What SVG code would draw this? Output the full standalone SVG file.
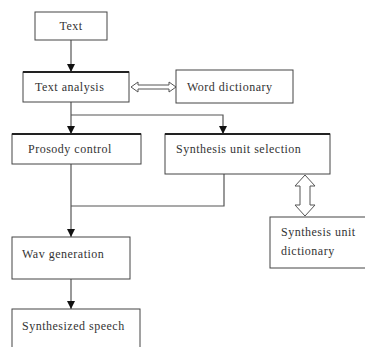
<svg xmlns="http://www.w3.org/2000/svg" width="365" height="347" viewBox="0 0 365 347">
<defs>
<marker id="ah" markerWidth="8" markerHeight="8" refX="8" refY="4" orient="auto" markerUnits="userSpaceOnUse">
<path d="M0,0 L8,4 L0,8 Z" fill="#111"/>
</marker>
<style>
.box{fill:#fff;stroke:#444;stroke-width:1}
.top{stroke:#222;stroke-width:2}
.t{font-family:'Liberation Serif','Times New Roman',serif;font-size:12px;letter-spacing:0.5px;fill:#333}
.ln{fill:none;stroke:#555;stroke-width:1.2}
.hol{fill:#fff;stroke:#555;stroke-width:1}
</style>
</defs>
<rect width="365" height="347" fill="#fff"/>
<g id="connectors">
<line class="ln" x1="71" y1="40" x2="71" y2="72" marker-end="url(#ah)"/>
<line class="ln" x1="71" y1="102" x2="71" y2="134" marker-end="url(#ah)"/>
<polyline class="ln" points="71,115 223,115 223,134" marker-end="url(#ah)"/>
<line class="ln" x1="71" y1="164" x2="71" y2="237" marker-end="url(#ah)"/>
<polyline class="ln" points="71,206 224,206 224,174"/>
<line class="ln" x1="71" y1="279" x2="71" y2="309" marker-end="url(#ah)"/>
<polygon class="hol" points="131,87 138,82 138,85 169,85 169,82 176,87 169,92 169,89 138,89 138,92"/>
<polygon class="hol" points="305,175 315,186 310,186 310,205 315,205 305,216 295,205 300,205 300,186 295,186"/>
</g>
<g id="text">
<rect class="box" x="35" y="12" width="72" height="28"/>
<text class="t" x="71" y="30" text-anchor="middle">Text</text>
</g>
<g id="text-analysis">
<rect class="box" x="23" y="72" width="106" height="30"/>
<line class="top" x1="23" y1="72" x2="129" y2="72"/>
<text class="t" x="35" y="91">Text analysis</text>
</g>
<g id="word-dictionary">
<rect class="box" x="176" y="70" width="117" height="33"/>
<text class="t" x="187" y="91">Word dictionary</text>
</g>
<g id="prosody-control">
<rect class="box" x="12" y="134" width="129" height="30"/>
<line class="top" x1="12" y1="134" x2="141" y2="134"/>
<text class="t" x="28" y="153">Prosody control</text>
</g>
<g id="synthesis-unit-selection">
<rect class="box" x="165" y="134" width="165" height="40"/>
<line class="top" x1="165" y1="134" x2="330" y2="134"/>
<text class="t" x="176" y="153">Synthesis unit selection</text>
</g>
<g id="synthesis-unit-dictionary">
<rect class="box" x="270" y="217" width="100" height="51"/>
<text class="t" x="281" y="236">Synthesis unit</text>
<text class="t" x="281" y="255">dictionary</text>
</g>
<g id="wav-generation">
<rect class="box" x="12" y="237" width="118" height="42"/>
<text class="t" x="22" y="258">Wav generation</text>
</g>
<g id="synthesized-speech">
<rect class="box" x="12" y="309" width="128" height="45"/>
<text class="t" x="22" y="330">Synthesized speech</text>
</g>
</svg>
